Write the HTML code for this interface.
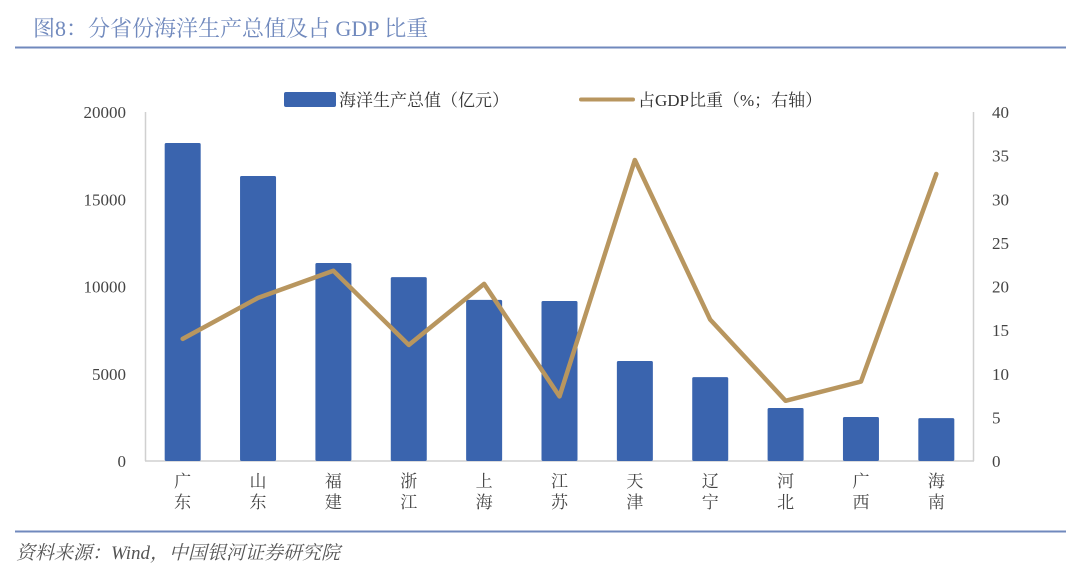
<!DOCTYPE html>
<html><head><meta charset="utf-8"><style>
body{margin:0;background:#fff;width:1080px;height:574px;overflow:hidden}
text{font-family:"Liberation Serif","Noto Serif CJK SC",serif}
</style></head><body>
<svg id="c" width="1080" height="574" xmlns="http://www.w3.org/2000/svg">
<text x="33" y="36" font-size="22" fill="#7089bd">图8：分省份海洋生产总值及占 GDP 比重</text>
<line x1="15" y1="47.5" x2="1066" y2="47.5" stroke="#7089bd" stroke-width="2"/>
<line x1="15" y1="531.5" x2="1066" y2="531.5" stroke="#7089bd" stroke-width="2"/>
<text x="16" y="559" font-size="19" fill="#555" font-style="italic">资料来源：Wind，中国银河证券研究院</text>
<rect x="284" y="92" width="52" height="15" rx="2" fill="#3a64ae"/>
<text x="339" y="106" font-size="17" fill="#333">海洋生产总值（亿元）</text>
<line x1="581" y1="99.5" x2="633" y2="99.5" stroke="#b8965f" stroke-width="4" stroke-linecap="round"/>
<text x="638" y="106" font-size="17" fill="#333">占GDP比重（%；右轴）</text>
<line x1="145.5" y1="112" x2="145.5" y2="461" stroke="#d0d0d0" stroke-width="1.5"/>
<line x1="973.5" y1="112" x2="973.5" y2="461" stroke="#d0d0d0" stroke-width="1.5"/>
<line x1="145" y1="461" x2="974" y2="461" stroke="#d0d0d0" stroke-width="1.5"/>
<g id="g"></g>
</svg>
<script>
const categories=["广东","山东","福建","浙江","上海","江苏","天津","辽宁","河北","广西","海南"];
const outputValues=[18220,16330,11350,10540,9230,9170,5730,4810,3040,2520,2460];
const gdpShare=[14.0,18.7,21.8,13.3,20.3,7.4,34.5,16.2,6.9,9.1,32.9];
const leftTicks=[0,5000,10000,15000,20000];
const rightTicks=[0,5,10,15,20,25,30,35,40];
const NS="http://www.w3.org/2000/svg",g=document.getElementById('g');
const x0=145,x1=974,yb=461,yt=112,step=(x1-x0)/categories.length;
const xc=i=>x0+step*(i+0.5);
const yL=v=>yb-(v/20000)*(yb-yt);
const yR=v=>yb-(v/40)*(yb-yt);
function mk(t,a){const e=document.createElementNS(NS,t);for(const k in a)e.setAttribute(k,a[k]);g.appendChild(e);return e;}
leftTicks.forEach(v=>{const e=mk('text',{x:126,y:yL(v)+6,'font-size':17,fill:'#444','text-anchor':'end'});e.textContent=v;

});
rightTicks.forEach(v=>{const e=mk('text',{x:992,y:yR(v)+6,'font-size':17,fill:'#444'});e.textContent=v;

});
outputValues.forEach((v,i)=>{const r=mk('rect',{x:xc(i)-18,y:yL(v),width:36,height:yb-yL(v),fill:'#3a64ae',rx:1.5});

});
categories.forEach((c,i)=>{[0,1].forEach(k=>{const e=mk('text',{x:xc(i),y:487+k*21,'font-size':17,fill:'#444','text-anchor':'middle'});e.textContent=c[k];

});});
const p=mk('polyline',{points:gdpShare.map((v,i)=>xc(i)+','+yR(v)).join(' '),fill:'none',stroke:'#b8965f','stroke-width':4.5,'stroke-linejoin':'round','stroke-linecap':'round'});


</script>
</body></html>
